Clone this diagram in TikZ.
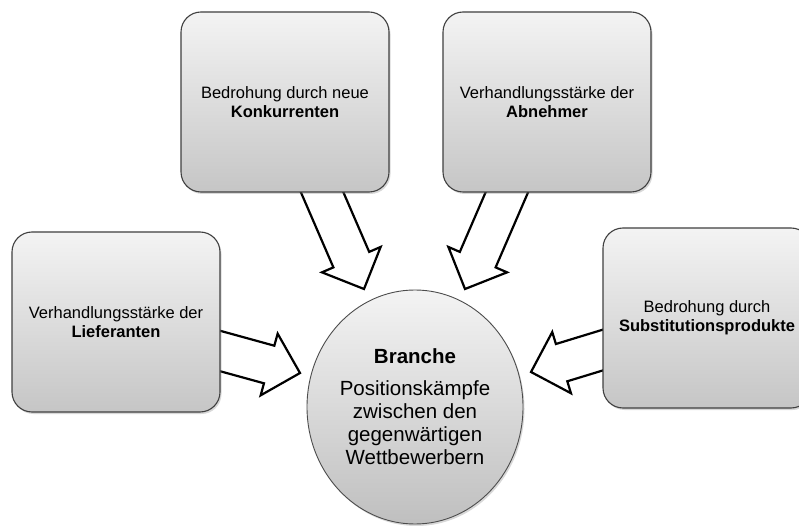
\documentclass[tikz,border=0pt]{standalone}
\usepackage{fontspec}
\setmainfont{Liberation Sans}
\usetikzlibrary{shapes.geometric,shadows}
\begin{document}
\begin{tikzpicture}[x=1pt,y=1pt,
  softshadow/.style={drop shadow={shadow xshift=1.5pt,shadow yshift=-2pt,opacity=0.3}},
  force/.style={draw=black!75, line width=1.1pt, rounded corners=20pt,
    minimum width=208pt, minimum height=180pt, inner sep=0pt,
    top color=gray!9, bottom color=gray!45, softshadow,
    align=center, font=\fontsize{16.5}{19}\selectfont},
  core/.style={ellipse, draw=black!70, line width=0.9pt,
    minimum width=216pt, minimum height=234pt, inner sep=0pt,
    top color=gray!9, bottom color=gray!50, softshadow},
  coretext/.style={align=center, font=\fontsize{20.5}{23}\selectfont},
  arrowline/.style={draw=black, line width=2.2pt, fill=white, line join=miter},
  blockarrow/.pic={
    \path[arrowline] (0,0) -- (-32,32) -- (-32,19.5) -- (-125,19.5)
      -- (-125,-19.5) -- (-32,-19.5) -- (-32,-32) -- cycle;
  }
]
\path[fill=white,use as bounding box] (0,0) rectangle (799,525);

% tips of the block arrows, just short of the central ellipse
\coordinate (tk) at (364,236);
\coordinate (ta) at (465,236);
\coordinate (tl) at (300,152);
\coordinate (ts) at (531,153);

% arrows first: their tails vanish under the boxes
\pic[rotate=-66.6] at (tk) {blockarrow};
\pic[rotate=246.6] at (ta) {blockarrow};
\pic[rotate=-15.4] at (tl) {blockarrow};
\pic[rotate=197]   at (ts) {blockarrow};

% the five forces
\node[force] (k) at (285,423) {Bedrohung durch neue\\\textbf{Konkurrenten}};
\node[force] (a) at (547,423) {Verhandlungsstärke der\\\textbf{Abnehmer}};
\node[force] (l) at (116,203) {Verhandlungsstärke der\\\textbf{Lieferanten}};
\node[force] (s) at (707,207) {Bedrohung durch\\\textbf{Substitutionsprodukte}};

\node[core] (c) at (415,118) {};
\node[coretext] (ct) at (c) {\textbf{Branche}\\[9pt]Positionskämpfe\\zwischen den\\gegenwärtigen\\Wettbewerbern};
\end{tikzpicture}
\end{document}
